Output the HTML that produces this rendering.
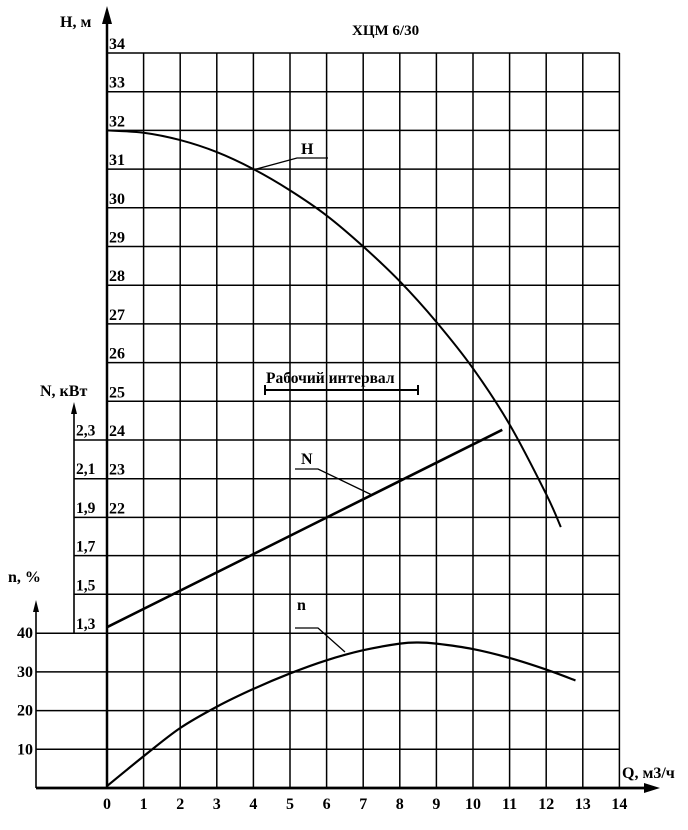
<!DOCTYPE html>
<html><head><meta charset="utf-8"><style>
html,body{margin:0;padding:0;background:#fff;}
svg{display:block;font-family:"Liberation Serif",serif;font-weight:bold;}
</style></head><body>
<svg width="688" height="830" viewBox="0 0 688 830" id="chart">
<g id="grid"></g>
<g id="axes"></g>
<g id="series"></g>
<text x="352" y="35" font-size="15">ХЦМ 6/30</text>
<text x="60" y="27" font-size="16">H, м</text>
<text x="40" y="396" font-size="16">N, кВт</text>
<text x="8" y="582" font-size="16">n, %</text>
<text x="622" y="778" font-size="16">Q, м3/ч</text>
<text x="266" y="383" font-size="15.5">Рабочий интервал</text>
</svg>
<script>
const qTicks=[0,1,2,3,4,5,6,7,8,9,10,11,12,13,14];
const hTicks=[34,33,32,31,30,29,28,27,26,25,24,23,22];
const powerTicks=[2.3,2.1,1.9,1.7,1.5,1.3];
const effTicks=[40,30,20,10];
const headQ=[0,1,2,3,4,5,6,7,8,9,10,11,12,12.4];
const headH=[32,31.94,31.75,31.44,31.0,30.45,29.8,29.0,28.1,27.05,25.85,24.4,22.6,21.75];
const powerQ=[0,10.8];
const powerN=[1.33,2.35];
const effQ=[0,1,2,3,4,5,6,7,8,8.5,9,10,11,12,12.8];
const effN=[0.5,8.2,15.5,21,25.6,29.6,33,35.6,37.3,37.6,37.3,35.9,33.6,30.6,27.8];

const NS='http://www.w3.org/2000/svg';
const X0=107,DX=36.6,TOP=53,DY=38.7,AX=788;
function xq(q){return X0+q*DX;}
function yh(h){return TOP+(34-h)*DY;}
function yN(n){return 633-(n-1.3)/0.2*DY;}
function ye(e){return AX-e/10*DY;}
function mk(tag,attrs,parent){const e=document.createElementNS(NS,tag);for(const k in attrs)e.setAttribute(k,attrs[k]);parent.appendChild(e);return e;}
const grid=document.getElementById('grid'),axes=document.getElementById('axes'),series=document.getElementById('series');
const R=xq(14);
qTicks.forEach(q=>{if(q===0)return;
 const l=mk('line',{x1:xq(q),y1:TOP,x2:xq(q),y2:AX,stroke:'#000','stroke-width':1.5},grid);
 
 
});
hTicks.forEach(h=>{
 const y=yh(h);const left=h<=24?74:107;
 const l=mk('line',{x1:left,y1:y,x2:R,y2:y,stroke:'#000','stroke-width':1.5},grid);
 
 
 const t=mk('text',{x:109,y:y-4,'font-size':16},axes);t.textContent=h;
 
 
});
powerTicks.forEach(n=>{
 const y=yN(n);
 if(n<1.8&&n>1.4){
  const l=mk('line',{x1:74,y1:y,x2:R,y2:y,stroke:'#000','stroke-width':1.5},grid);
  
  
 }
 const t=mk('text',{x:76,y:y-4,'font-size':15.5},axes);t.textContent=String(n).replace('.',',');
 
 
});
effTicks.forEach(e=>{
 const y=ye(e);
 const l=mk('line',{x1:36,y1:y,x2:R,y2:y,stroke:'#000','stroke-width':1.5},grid);
 
 
 const t=mk('text',{x:33,y:y+5,'font-size':16,'text-anchor':'end'},axes);t.textContent=e;
 
 
});
qTicks.forEach(q=>{
 const t=mk('text',{x:xq(q),y:809,'font-size':16,'text-anchor':'middle'},axes);t.textContent=q;
 
 
});
function axis(x1,y1,x2,y2,name,w){const l=mk('line',{x1,y1,x2,y2,stroke:'#000','stroke-width':w||2.5},axes);}
axis(107,14,107,AX,'h-axis',2.5);
axis(74,410,74,633,'power-axis',1.6);
axis(36,608,36,AX,'eff-axis',1.6);
axis(36,AX,650,AX,'q-axis',2.8);
function arrow(pts,name){const p=mk('polygon',{points:pts,fill:'#000'},axes);}
arrow('107,6 102,24 112,24','h-axis-arrow');
arrow('74,402 71,414 77,414','power-axis-arrow');
arrow('36,600 33,612 39,612','eff-axis-arrow');
arrow('660,788 644,783 644,793','q-axis-arrow');
function smooth(pts){let d='M'+pts[0][0]+','+pts[0][1];
 for(let i=0;i<pts.length-1;i++){const p0=pts[i-1]||pts[i],p1=pts[i],p2=pts[i+1],p3=pts[i+2]||p2;
  d+=' C'+(p1[0]+(p2[0]-p0[0])/6)+','+(p1[1]+(p2[1]-p0[1])/6)+' '+(p2[0]-(p3[0]-p1[0])/6)+','+(p2[1]-(p3[1]-p1[1])/6)+' '+p2[0]+','+p2[1];}
 return d;}
const hp=mk('path',{d:smooth(headQ.map((q,i)=>[xq(q),yh(headH[i])])),fill:'none',stroke:'#000','stroke-width':2},series);


const np=mk('path',{d:smooth(powerQ.map((q,i)=>[xq(q),yN(powerN[i])])),fill:'none',stroke:'#000','stroke-width':2.6},series);


const ep=mk('path',{d:smooth(effQ.map((q,i)=>[xq(q),ye(effN[i])])),fill:'none',stroke:'#000','stroke-width':2.2},series);


function lead(pts,name,w){const p=mk('polyline',{points:pts,fill:'none',stroke:'#000','stroke-width':w||1.3},series);}
lead('253,170 297,158 328,158','head-leader');
lead('295,469 318,469 372,495','power-leader');
lead('295,628 318,628 345,652','efficiency-leader');
lead('265,390 418,390','working-range-bar',2);
lead('265,385 265,395','working-range-start',2);
lead('418,385 418,395','working-range-end',2);
function lab(x,y,s,name){const t=mk('text',{x,y,'font-size':16},series);t.textContent=s;}
lab(301,154,'H','head-label');
lab(301,464,'N','power-label');
lab(297,610,'n','efficiency-label');
</script>
</body></html>
